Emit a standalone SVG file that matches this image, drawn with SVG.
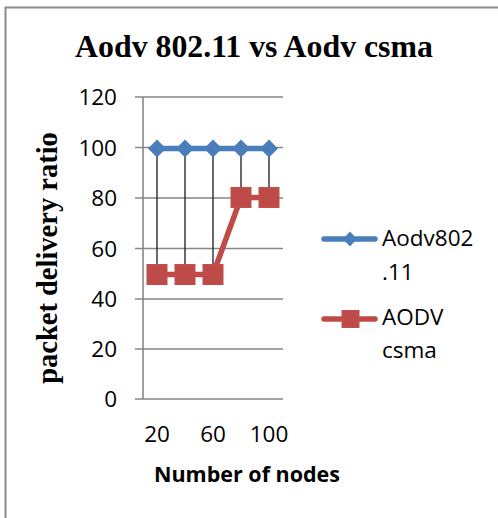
<svg xmlns="http://www.w3.org/2000/svg" width="498" height="518" viewBox="0 0 498 518">
<defs>
<style>
.grid{stroke:#878787;stroke-width:1.6;fill:none}
.hl{stroke:#2b2b2b;stroke-width:1.4}
.tick{font-family:"Open Sans","Liberation Sans",sans-serif;font-size:22.5px;fill:#000}
.leg{font-family:"Open Sans","Liberation Sans",sans-serif;font-size:22.5px;fill:#000}
.blue{stroke:#4A7EBB;stroke-width:5.5;fill:none;stroke-linejoin:round;stroke-linecap:round}
.red{stroke:#BE4B48;stroke-width:5.5;fill:none;stroke-linejoin:round;stroke-linecap:round}
.bm{fill:#4A7EBB}
.rm{fill:#BE4B48;stroke:#C0504D;stroke-width:1}
</style>
<path id="dia" d="M0,-9 L9,0 L0,9 L-9,0 Z"/>
</defs>
<rect width="498" height="518" fill="#fff"/>
<rect x="5.5" y="7.5" width="600" height="600" fill="none" stroke="#8a8a8a" stroke-width="2"/>
<g id="title">
<text x="254" y="57" text-anchor="middle" font-family="'Liberation Serif','Times New Roman',serif" font-weight="bold" font-size="31.8">Aodv 802.11 vs Aodv csma</text>
</g>
<g id="y-axis-title">
<text transform="translate(57,258) rotate(-90)" text-anchor="middle" font-family="'Liberation Serif','Times New Roman',serif" font-weight="bold" font-size="28.5">packet delivery ratio</text>
</g>
<g id="grid">
<path class="grid" d="M135,97H283M135,147.5H283M135,198H283M135,248.5H283M135,299H283M135,349H283M135,399H283M143,97V399"/>
</g>
<g id="y-ticks" class="tick" text-anchor="end">
<text x="117" y="105">120</text>
<text x="117" y="155.5">100</text>
<text x="117" y="206">80</text>
<text x="117" y="256.5">60</text>
<text x="117" y="307">40</text>
<text x="117" y="357">20</text>
<text x="117" y="407">0</text>
</g>
<g id="x-ticks" class="tick" text-anchor="middle">
<text x="157" y="442">20</text>
<text x="213" y="442">60</text>
<text x="269" y="442">100</text>
</g>
<g id="x-axis-title">
<text x="247" y="482" text-anchor="middle" font-family="'Open Sans','Liberation Sans',sans-serif" font-weight="bold" font-size="21.5">Number of nodes</text>
</g>
<g id="connectors">
<path class="hl" d="M157,148.5V274.5M185,148.5V274.5M213,148.5V274.5M241,148.5V197.5M269,148.5V197.5"/>
<path class="blue" d="M157,148.5H269"/>
<path class="red" d="M157,274.5H213L241,197.5H269"/>
</g>
<g id="series-aodv80211">
<use href="#dia" class="bm" x="157" y="148.5"/>
<use href="#dia" class="bm" x="185" y="148.5"/>
<use href="#dia" class="bm" x="213" y="148.5"/>
<use href="#dia" class="bm" x="241" y="148.5"/>
<use href="#dia" class="bm" x="269" y="148.5"/>
</g>
<g id="series-aodv-csma">
<rect class="rm" x="147" y="264.5" width="20" height="20"/>
<rect class="rm" x="175" y="264.5" width="20" height="20"/>
<rect class="rm" x="203" y="264.5" width="20" height="20"/>
<rect class="rm" x="231" y="187.5" width="20" height="20"/>
<rect class="rm" x="259" y="187.5" width="20" height="20"/>
</g>
<g id="legend-aodv80211">
<path class="blue" d="M324,239H375" stroke-width="5"/>
<path d="M350,231.5L357,239L350,246.5L343,239Z" class="bm"/>
<text class="leg" x="382" y="246">Aodv802</text>
<text class="leg" x="382" y="280">.11</text>
</g>
<g id="legend-aodv-csma">
<path class="red" d="M324,319H375" stroke-width="5"/>
<rect class="rm" x="342" y="310.5" width="17" height="17"/>
<text class="leg" x="382" y="325">AODV</text>
<text class="leg" x="382" y="358">csma</text>
</g>
</svg>
